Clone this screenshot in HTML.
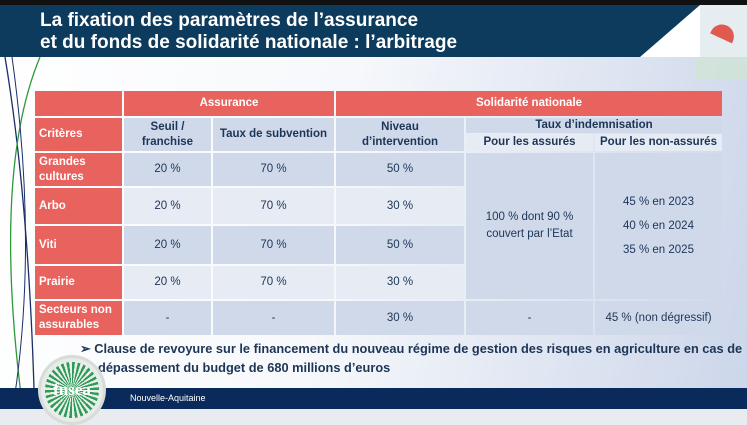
<!DOCTYPE html>
<html><head><meta charset="utf-8"><style>
*{margin:0;padding:0;box-sizing:border-box}
body{width:747px;height:425px;overflow:hidden;position:relative;font-family:"Liberation Sans",sans-serif;background:linear-gradient(100deg,#ffffff 0%,#f6f8fb 45%,#ccd6ea 100%)}
.a{position:absolute}
.c{position:absolute;display:flex;align-items:center;justify-content:center;text-align:center;font-size:11.5px;color:#1d3557;line-height:1.45}
.r{background:#e8625e;color:#fff;font-weight:bold}
.l{justify-content:flex-start;padding-left:4px;text-align:left}
.b1{background:#d0d9ea}
.b2{background:#e6ebf4}
.h{font-weight:bold}
</style></head><body>
<div class="a" style="left:0;top:0;width:747px;height:5px;background:#111"></div>
<div class="a" style="left:0;top:5px;width:747px;height:52px;background:#0c3b5e"></div>
<div class="a" style="left:640px;top:5px;width:0;height:0;border-bottom:52px solid #fff;border-left:60px solid transparent"></div>
<div class="a" style="left:700px;top:5px;width:47px;height:52px;background:#e6edf0"></div>
<div class="a" style="left:712px;top:25px;width:24px;height:14px;background:#e05a4f;border-radius:12px 12px 0 0;transform:rotate(25deg)"></div>
<div class="a" style="left:695px;top:57px;width:52px;height:22px;background:#cfe6d2;opacity:.7"></div>
<div class="a" style="left:40px;top:10px;color:#fff;font-size:19px;font-weight:bold;line-height:22px">La fixation des paramètres de l’assurance<br>et du fonds de solidarité nationale : l’arbitrage</div>
<svg class="a" style="left:0;top:57px" width="60" height="368"><path d="M5 0 Q30 150 35 368" stroke="#1a2f6a" fill="none" stroke-width="1.3"/><path d="M40 0 Q-10 120 25 368" stroke="#2a9a3a" fill="none" stroke-width="1.3"/><path d="M12 0 Q40 200 10 368" stroke="#1a2f6a" fill="none" stroke-width="1"/></svg>

<div class="c r" style="left:35px;top:91px;width:87px;height:25px"></div>
<div class="c r" style="left:124px;top:91px;width:210px;height:25px">Assurance</div>
<div class="c r" style="left:336px;top:91px;width:386px;height:25px">Solidarité nationale</div>

<div class="c r l" style="left:35px;top:118px;width:87px;height:33px">Critères</div>
<div class="c b1 h" style="left:124px;top:118px;width:87px;height:33px;line-height:1.3">Seuil /<br>franchise</div>
<div class="c b1 h" style="left:213px;top:118px;width:121px;height:33px">Taux de subvention</div>
<div class="c b1 h" style="left:336px;top:118px;width:128px;height:33px;line-height:1.3">Niveau<br>d’intervention</div>
<div class="c b1 h" style="left:466px;top:118px;width:256px;height:15px">Taux d’indemnisation</div>
<div class="c b2 h" style="left:466px;top:134px;width:127px;height:17px">Pour les assurés</div>
<div class="c b2 h" style="left:595px;top:134px;width:127px;height:17px">Pour les non-assurés</div>

<div class="c r l" style="left:35px;top:153px;width:87px;height:33px;line-height:1.3">Grandes<br>cultures</div>
<div class="c b1" style="left:124px;top:153px;width:87px;height:33px">20 %</div>
<div class="c b1" style="left:213px;top:153px;width:121px;height:33px">70 %</div>
<div class="c b1" style="left:336px;top:153px;width:128px;height:33px">50 %</div>

<div class="c r l" style="left:35px;top:188px;width:87px;height:36px">Arbo</div>
<div class="c b2" style="left:124px;top:188px;width:87px;height:36px">20 %</div>
<div class="c b2" style="left:213px;top:188px;width:121px;height:36px">70 %</div>
<div class="c b2" style="left:336px;top:188px;width:128px;height:36px">30 %</div>

<div class="c r l" style="left:35px;top:226px;width:87px;height:38px">Viti</div>
<div class="c b1" style="left:124px;top:226px;width:87px;height:38px">20 %</div>
<div class="c b1" style="left:213px;top:226px;width:121px;height:38px">70 %</div>
<div class="c b1" style="left:336px;top:226px;width:128px;height:38px">50 %</div>

<div class="c r l" style="left:35px;top:266px;width:87px;height:33px">Prairie</div>
<div class="c b2" style="left:124px;top:266px;width:87px;height:33px">20 %</div>
<div class="c b2" style="left:213px;top:266px;width:121px;height:33px">70 %</div>
<div class="c b2" style="left:336px;top:266px;width:128px;height:33px">30 %</div>

<div class="c b1" style="left:466px;top:153px;width:127px;height:146px">100 % dont 90 %<br>couvert par l’Etat</div>
<div class="c b1" style="left:595px;top:153px;width:127px;height:146px;line-height:2.1">45 % en 2023<br>40 % en 2024<br>35 % en 2025</div>

<div class="c r l" style="left:35px;top:301px;width:87px;height:34px;line-height:1.3">Secteurs non<br>assurables</div>
<div class="c b1" style="left:124px;top:301px;width:87px;height:34px">-</div>
<div class="c b1" style="left:213px;top:301px;width:121px;height:34px">-</div>
<div class="c b1" style="left:336px;top:301px;width:128px;height:34px">30 %</div>
<div class="c b1" style="left:466px;top:301px;width:127px;height:34px">-</div>
<div class="c b1" style="left:595px;top:301px;width:127px;height:34px">45 % (non dégressif)</div>

<div class="a" style="left:80px;top:339px;font-size:12.8px;font-weight:bold;color:#1d3557;line-height:19px;white-space:nowrap">➢ Clause de revoyure sur le financement du nouveau régime de gestion des risques en agriculture en cas de<br><span style="padding-left:18px">dépassement du budget de 680 millions d’euros</span></div>

<div class="a" style="left:0;top:388px;width:747px;height:21px;background:#0b2a5c"></div>
<div class="a" style="left:0;top:409px;width:747px;height:16px;background:#e8ebf0"></div>
<div class="a" style="left:130px;top:393px;font-size:9px;color:#fff">Nouvelle-Aquitaine</div>
<div class="a" style="left:38px;top:355px;width:68px;height:70px;border-radius:50%;background:#e8ece8;border:3px solid #d8dcd8"></div>
<div class="a" style="left:45px;top:362px;width:54px;height:56px;border-radius:50%;background:repeating-conic-gradient(#2f9a5a 0 6deg,#e8f0e8 6deg 12deg)"></div>
<div class="a" style="left:46px;top:380px;width:52px;font-size:17px;font-weight:bold;color:#fff;font-family:'Liberation Serif',serif;text-align:center">fnsea</div>
</body></html>
